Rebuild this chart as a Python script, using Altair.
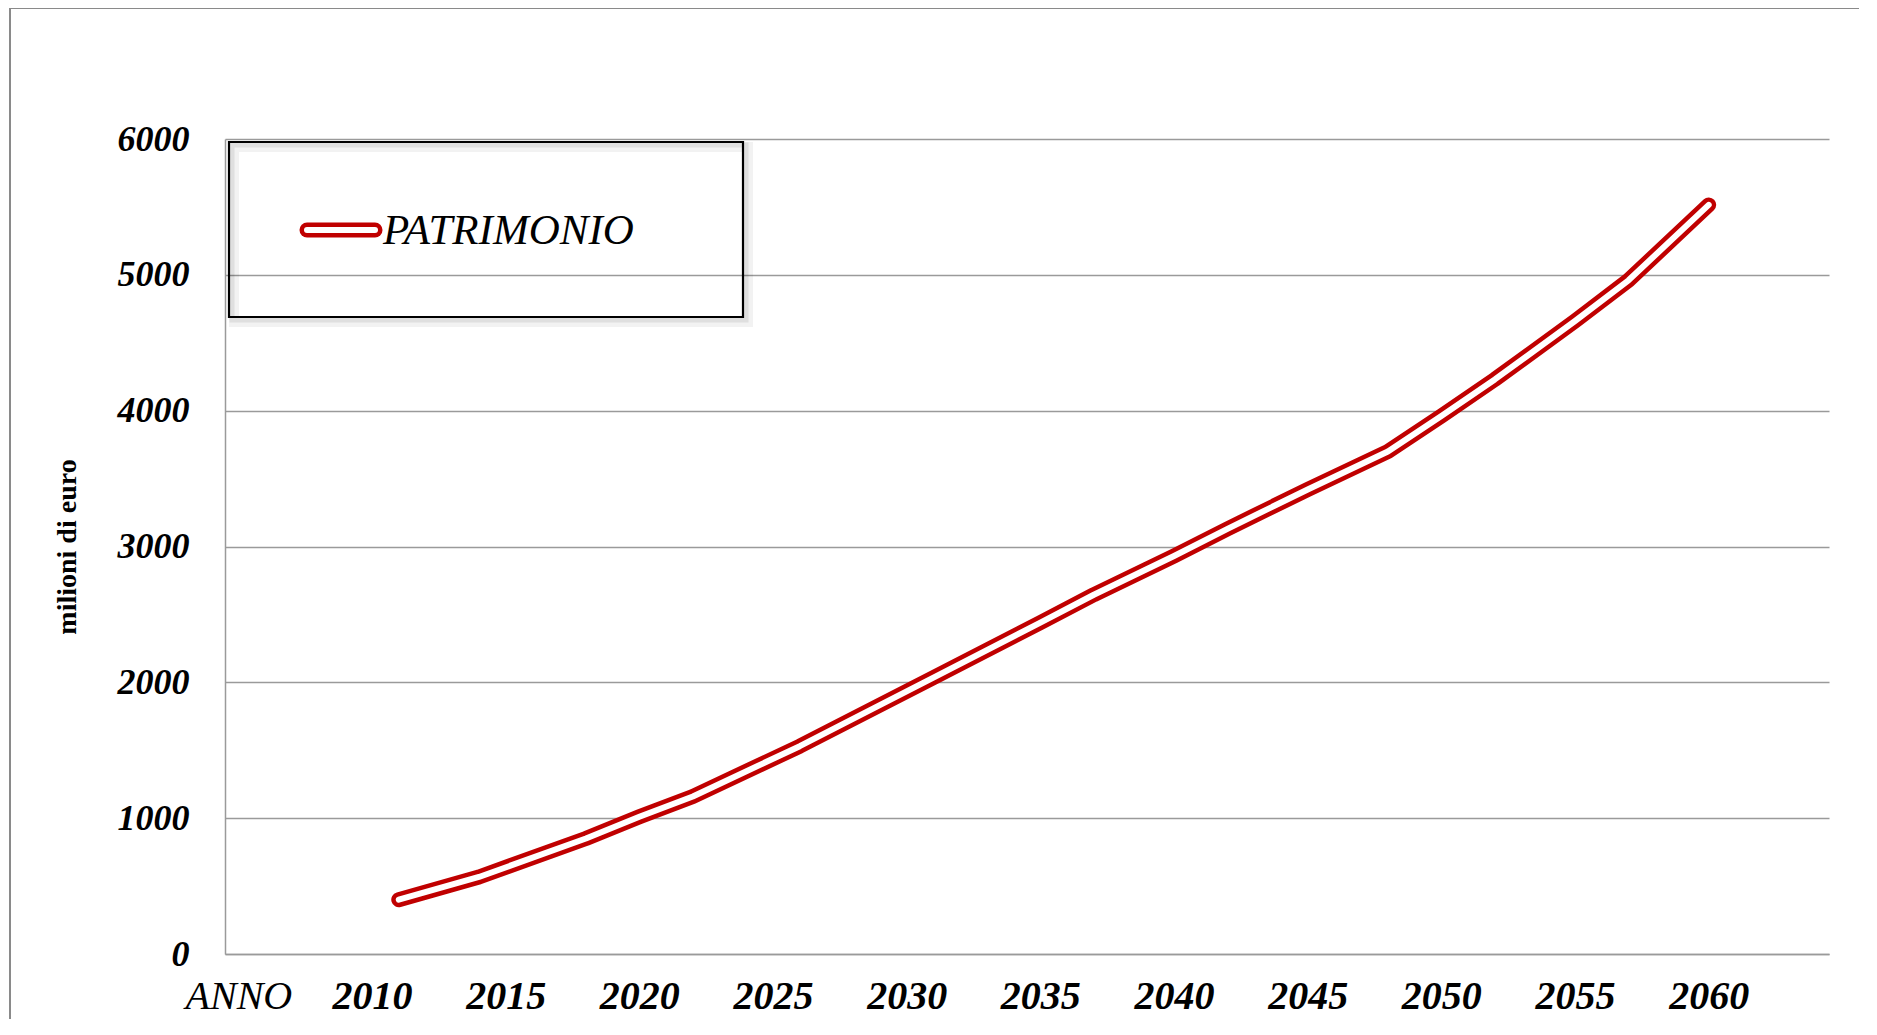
import altair as alt
import pandas as pd

# Data
years = [2011, 2014, 2018, 2020, 2022, 2026, 2031, 2035, 2037, 2040, 2042, 2045, 2048, 2050, 2052, 2055, 2057, 2060]
patrimonio = [400, 567, 850, 1010, 1160, 1530, 2035, 2440, 2645, 2930, 3130, 3420, 3700, 3960, 4230, 4660, 4960, 5515]
series_name = "PATRIMONIO"
x_ticks = [2005, 2010, 2015, 2020, 2025, 2030, 2035, 2040, 2045, 2050, 2055, 2060]
y_ticks = [0, 1000, 2000, 3000, 4000, 5000, 6000]

df = pd.DataFrame({"anno": years, "valore": patrimonio})

FONT = "Liberation Serif"
RED = "#C00000"
GRAY = "#9a9a9a"
W, H = 1604, 815

x_enc = alt.X(
    "anno:Q",
    scale=alt.Scale(domain=[2004.5, 2064.5], nice=False, zero=False),
    axis=alt.Axis(
        values=x_ticks, format="d",
        labelExpr="datum.value == 2005 ? 'ANNO' : datum.label",
        grid=False, ticks=False, tickSize=0,
        domainColor=GRAY, domainWidth=1.5,
        labelFont=FONT, labelFontSize=40, labelFontStyle="italic",
        labelFontWeight={"condition": {"test": "datum.value == 2005", "value": "normal"}, "value": "bold"},
        labelColor="black", labelPadding=42, labelBaseline="middle",
        labelFlush=False, labelOverlap=False, title=None,
    ),
)
y_enc = alt.Y(
    "valore:Q",
    scale=alt.Scale(domain=[0, 6000], nice=False),
    axis=alt.Axis(
        values=y_ticks, format="d",
        grid=True, gridColor=GRAY, gridWidth=1.3,
        ticks=False, tickSize=0,
        domainColor=GRAY, domainWidth=1.5,
        labelFont=FONT, labelFontSize=36, labelFontStyle="italic", labelFontWeight="bold",
        labelColor="black", labelPadding=36, labelFlush=False, labelBaseline="middle",
        title="milioni di euro", titleFont=FONT, titleFontSize=28, titleFontWeight="bold",
        titleColor="black", titleAngle=-90, titleX=-158, titleY=H / 2,
        titleBaseline="middle", titleAlign="center",
    ),
)

base = alt.Chart(df)
outer = base.mark_line(color=RED, strokeWidth=15, strokeCap="round", strokeJoin="round").encode(x=x_enc, y=y_enc)
inner = base.mark_line(color="white", strokeWidth=6, strokeCap="round", strokeJoin="round").encode(x="anno:Q", y="valore:Q")

one = alt.Chart(pd.DataFrame({"k": [0]}))

# outer frame of the picture (left and top gray borders)
frame_left = one.mark_rule(color="#8a8a8a", strokeWidth=2).encode(
    x=alt.value(-215), y=alt.value(-131), y2=alt.value(H + 70))
frame_top = one.mark_rule(color="#8a8a8a", strokeWidth=2).encode(
    x=alt.value(-215), x2=alt.value(W + 40), y=alt.value(-131))

# legend box with soft shadow
shadow2 = one.mark_rect(fill=None, stroke="black", strokeOpacity=0.05, strokeWidth=10).encode(
    x=alt.value(9), x2=alt.value(523), y=alt.value(8), y2=alt.value(183))
shadow = one.mark_rect(fill=None, stroke="black", strokeOpacity=0.08, strokeWidth=5).encode(
    x=alt.value(7), x2=alt.value(521), y=alt.value(6), y2=alt.value(181))
box = one.mark_rect(fill=None, stroke="black", strokeWidth=2.2).encode(
    x=alt.value(4), x2=alt.value(518), y=alt.value(3), y2=alt.value(178))
sym_outer = one.mark_rule(color=RED, strokeWidth=15, strokeCap="round").encode(
    x=alt.value(82), x2=alt.value(150), y=alt.value(91))
sym_inner = one.mark_rule(color="white", strokeWidth=6, strokeCap="round").encode(
    x=alt.value(82), x2=alt.value(150), y=alt.value(91))
leg_text = one.mark_text(
    text=series_name, font=FONT, fontSize=43, fontStyle="italic", color="black",
    align="left", baseline="middle").encode(x=alt.value(158), y=alt.value(92))

chart = alt.layer(
    frame_left, frame_top, outer, inner, shadow2, shadow, box, sym_outer, sym_inner, leg_text
).properties(
    width=W, height=H,
    padding={"left": 217, "top": 131, "right": 30, "bottom": 65},
    autosize=alt.AutoSizeParams(type="none"),
    background="white",
).configure_view(stroke=None)

chart.save("out.html", embed_options={"renderer": "svg", "actions": False})
